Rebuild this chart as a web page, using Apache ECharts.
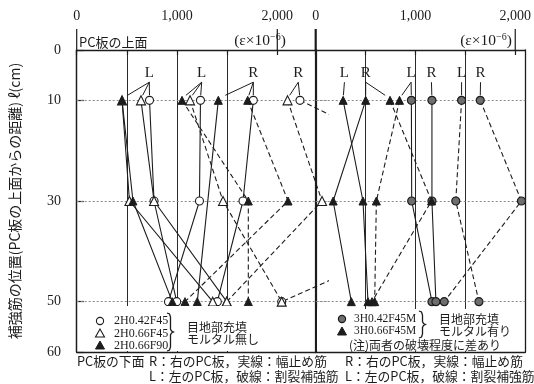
<!DOCTYPE html>
<html>
<head>
<meta charset="utf-8">
<script src="https://cdn.jsdelivr.net/npm/echarts@6/dist/echarts.min.js"></script>
<style>
  html, body { margin: 0; padding: 0; background: #fff; }
  #c { width: 534px; height: 384px; }
</style>
</head>
<body>
<div id="c"></div>
<script>
// Depth of each reading below the upper face of the PC slab (cm)
const depths = [-10, -30, -50];

// Strain readings (×10^-6) at 10 / 30 / 50 cm — joints without mortar
const c42_Lsolid_a = [726, 771, 997];
const c42_Lsolid_b = [1234, 1224, 915];
const c42_Rsolid   = [1761, 1658, 1402];
const c42_Rdash    = [2226, 4300, 2044];
const t66_Lsolid_a = [452, 526, 1356];
const t66_Lsolid_b = [641, 771, 1496];
const t66_Ldash    = [1130, 1459, 2044];
const t66_Rdash    = [2102, 2446, 1496];
const f90_Lsolid   = [452, 561, 953];
const f90_Ldash    = [1050, 1711, 1711];
const f90_Rsolid   = [1412, null, 1202];
const f90_Rdash    = [1705, 2107, 1080];

// Strain readings (×10^-6) — joints filled with mortar
const m42_Lsolid = [959, 962, 1165];
const m42_Rsolid = [1165, 1165, 1205];
const m42_Ldash  = [1462, 1404, 1636];
const m42_Rdash  = [1649, 2062, 1288];
const m66_Lsolid = [275, 474, 524];
const m66_Rsolid = [501, 175, 357];
const m66_Rdash  = [745, 1161, 564];
const m66_Ldash  = [840, 608, 591];

// Axis tick values
const strainTicks = [0, 500, 1000, 1500, 2000];
const strainLabels = [0, 1000, 2000];
const depthTicks = [0, -10, -30, -50, -60];

// Callout letters above the 10 cm row: letter, strain under the letter, strains pointed at
const calloutsLeft = [
  ['L', 724, [452, 641, 726]],
  ['L', 1246, [1050, 1130, 1234]],
  ['R', 1761, [1412, 1705, 1761]],
  ['R', 2209, [2102, 2226]]
];
const calloutsRight = [
  ['L', 288, [275]],
  ['R', 501, [501, 745]],
  ['L', 956, [840, 959]],
  ['R', 1160, [1165]],
  ['L', 1462, [1462]],
  ['R', 1652, [1649]]
];

const INK = '#1c1c1c';
const SERIF = '"Liberation Serif","Noto Sans CJK JP",serif';
const JP = '"Noto Sans CJK JP","Liberation Serif",sans-serif';

const marker = {
  openCircle: { symbol: 'circle', symbolSize: 8, itemStyle: { color: '#fff', borderColor: INK, borderWidth: 1.1 } },
  openTri:    { symbol: 'triangle', symbolSize: 9, itemStyle: { color: '#fff', borderColor: INK, borderWidth: 1.1 } },
  blackTri:   { symbol: 'triangle', symbolSize: 8, itemStyle: { color: INK, borderColor: INK, borderWidth: 1 } },
  grayCircle: { symbol: 'circle', symbolSize: 8, itemStyle: { color: '#6e6e6e', borderColor: INK, borderWidth: 1.2 } }
};

// panel: 0 = no mortar, 1 = mortar
const curves = [
  [0, c42_Lsolid_a, 'openCircle', false],
  [0, c42_Lsolid_b, 'openCircle', false],
  [0, c42_Rsolid, 'openCircle', false],
  [0, c42_Rdash, 'openCircle', true],
  [0, t66_Lsolid_a, 'openTri', false],
  [0, t66_Lsolid_b, 'openTri', false],
  [0, t66_Ldash, 'openTri', true],
  [0, t66_Rdash, 'openTri', true],
  [0, f90_Lsolid, 'blackTri', false],
  [0, f90_Ldash, 'blackTri', true],
  [0, f90_Rsolid, 'blackTri', false],
  [0, f90_Rdash, 'blackTri', true],
  [1, m42_Lsolid, 'grayCircle', false],
  [1, m42_Rsolid, 'grayCircle', false],
  [1, m42_Ldash, 'grayCircle', true],
  [1, m42_Rdash, 'grayCircle', true],
  [1, m66_Lsolid, 'blackTri', false],
  [1, m66_Rsolid, 'blackTri', false],
  [1, m66_Rdash, 'blackTri', true],
  [1, m66_Ldash, 'blackTri', true]
];

const rowLines = {
  silent: true, symbol: 'none', label: { show: false },
  lineStyle: { color: '#8a8a8a', type: [2, 2], width: 1 },
  data: depths.map(d => ({ yAxis: d }))
};

const series = curves.map(([panel, vals, mk, dashed], i) => {
  const s = Object.assign({
    type: 'line',
    xAxisIndex: panel === 0 ? 0 : 4,
    yAxisIndex: panel === 0 ? 0 : 4,
    data: vals.map((v, k) => [v === null ? '-' : v, depths[k]]),
    connectNulls: true,
    clip: true,
    showSymbol: true,
    lineStyle: { color: INK, width: 1.1, type: dashed ? [5, 3] : 'solid' },
    z: 5
  }, marker[mk]);
  s.itemStyle = Object.assign({}, marker[mk].itemStyle);
  if (i === 0 || i === 12) s.markLine = rowLines;
  return s;
});

const strainFmt = v => v === 0 ? '0' : (v / 1000) + ',000';

function tickAxis(grid, max) {
  return {
    gridIndex: grid, type: 'value', position: 'top', offset: 21, min: 0, max: max, interval: 500,
    axisLine: { show: true, lineStyle: { color: INK, width: 1.2 } },
    axisTick: { show: true, inside: true, length: 5, customValues: strainTicks, lineStyle: { color: INK, width: 1.2 } },
    axisLabel: { show: true, customValues: strainLabels, formatter: strainFmt, fontFamily: SERIF, fontSize: 14, color: INK, margin: 6 },
    splitLine: { show: true, showMinLine: false, showMaxLine: false, lineStyle: { color: '#2a2a2a', width: 1 } }
  };
}
function frameAxis(grid, pos, w) {
  const vertical = pos === 'left' || pos === 'right';
  return {
    gridIndex: grid, type: 'value', position: pos, min: vertical ? -60 : 0, max: vertical ? 0 : 1,
    axisLine: { show: true, onZero: false, lineStyle: { color: INK, width: w || 1.3 } },
    axisTick: { show: false }, axisLabel: { show: false }, splitLine: { show: false }
  };
}
const hidden = (grid, min, max) => ({ gridIndex: grid, type: 'value', min: min, max: max, show: false, splitLine: { show: false } });

const option = {
  animation: false,
  backgroundColor: '#fff',
  grid: [
    { left: 76.7, top: 50, width: 250.75, height: 302 },   // data, no mortar
    { left: 76.7, top: 50, width: 215.65, height: 302 },   // strain scale, no mortar
    { left: 76.7, top: 50, width: 239, height: 302 },      // frame, no mortar
    { left: 315.7, top: 50, width: 210.8, height: 302 }    // data + scale, mortar
  ],
  xAxis: [
    hidden(0, 0, 2500),
    tickAxis(1, 2150),
    frameAxis(2, 'top'),
    frameAxis(2, 'bottom'),
    tickAxis(3, 2100),
    frameAxis(3, 'top'),
    frameAxis(3, 'bottom')
  ],
  yAxis: [
    hidden(0, -60, 0),
    hidden(1, -60, 0),
    {
      gridIndex: 2, type: 'value', min: -60, max: 0, position: 'left', offset: 36.7,
      axisLine: { show: true, lineStyle: { color: INK, width: 1.2 } },
      axisTick: { show: true, inside: true, length: 7, customValues: depthTicks, lineStyle: { color: INK, width: 1.2 } },
      axisLabel: { show: true, inside: true, customValues: depthTicks, formatter: v => String(Math.abs(v)),
                   align: 'right', margin: 21, fontFamily: SERIF, fontSize: 14, color: INK },
      splitLine: { show: false },
      name: '補強筋の位置(PC板の上面からの距離) ℓ(cm)', nameLocation: 'middle', nameRotate: 90, nameGap: 18,
      nameTextStyle: { fontFamily: JP, fontSize: 14, color: INK }
    },
    frameAxis(2, 'left'),
    frameAxis(3, 'left', 2.2),
    frameAxis(3, 'right')
  ],
  series: series
};

const chart = echarts.init(document.getElementById('c'));
chart.setOption(option);

// ---- decorations positioned from the axes ----
const g = [];
const toL = (x, y) => chart.convertToPixel({ xAxisIndex: 0, yAxisIndex: 0 }, [x, y]);
const toR = (x, y) => chart.convertToPixel({ xAxisIndex: 4, yAxisIndex: 4 }, [x, y]);

function text(x, y, str, opt) {
  g.push({ type: 'text', x: x, y: y, z: 100, silent: true,
    style: Object.assign({ text: str, fill: INK, fontFamily: JP, fontSize: 12.5, align: 'left', verticalAlign: 'middle' }, opt || {}) });
}
function line(x1, y1, x2, y2, w, dash) {
  g.push({ type: 'line', z: 100, silent: true, shape: { x1: x1, y1: y1, x2: x2, y2: y2 },
    style: { stroke: INK, lineWidth: w || 1, lineDash: dash || null } });
}

// callout letters and leader lines
function callouts(list, conv) {
  list.forEach(([letter, lx, targets]) => {
    const p = conv(lx, -4.6);
    text(p[0], p[1], letter, { fontFamily: SERIF, fontSize: 15, align: 'center' });
    const s = conv(lx, -6.4);
    targets.forEach(t => {
      const e = conv(t + (lx - t) * 0.2, -9.0);
      line(s[0], s[1], e[0], e[1], 1);
    });
  });
}
callouts(calloutsLeft, toL);
callouts(calloutsRight, toR);

// connectors from the strain scales down to the frames
[[toL, 0], [toL, 2000], [toR, 0], [toR, 2000]].forEach(([conv, v], i) => {
  const p = conv(v, 0);
  line(p[0], p[1] - 21, p[0], p[1], i === 2 ? 2.2 : 1.2);
});

// scale headers
text(79, 42, 'PC板の上面', { fontSize: 13 });
const eps = { text: '(ε×10{s|−6})', fontFamily: SERIF, fontSize: 15.5, align: 'center',
  rich: { s: { fontFamily: SERIF, fontSize: 10, verticalAlign: 'top', padding: [0, 0, 7, 0] } } };
g.push({ type: 'text', x: 260, y: 41, z: 100, silent: true, style: Object.assign({ fill: INK, verticalAlign: 'middle' }, eps) });
g.push({ type: 'text', x: 486, y: 41, z: 100, silent: true, style: Object.assign({ fill: INK, verticalAlign: 'middle' }, eps) });

function brace(x, y1, y2) {
  const m = (y1 + y2) / 2;
  g.push({ type: 'polyline', z: 100, silent: true,
    shape: { points: [[x, y1], [x + 2.5, y1 + 1], [x + 3.5, y1 + 4], [x + 3.5, m - 3], [x + 4.5, m - 1], [x + 6.5, m],
                      [x + 4.5, m + 1], [x + 3.5, m + 3], [x + 3.5, y2 - 4], [x + 2.5, y2 - 1], [x, y2]] },
    style: { fill: null, stroke: INK, lineWidth: 1.3 } });
}

// legend: no mortar
g.push({ type: 'rect', z: 90, silent: true, shape: { x: 78, y: 306, width: 184, height: 45 }, style: { fill: '#fff' } });
g.push({ type: 'circle', z: 100, silent: true, shape: { cx: 100, cy: 321, r: 3.6 }, style: { fill: '#fff', stroke: INK, lineWidth: 1.1 } });
g.push({ type: 'polygon', z: 100, silent: true, shape: { points: [[100, 329], [95.5, 337], [104.5, 337]] }, style: { fill: '#fff', stroke: INK, lineWidth: 1.1 } });
g.push({ type: 'polygon', z: 100, silent: true, shape: { points: [[100, 341], [95.5, 349], [104.5, 349]] }, style: { fill: INK, stroke: INK, lineWidth: 1 } });
text(114, 321, '2H0.42F45', { fontFamily: SERIF, fontSize: 12 });
text(114, 333.5, '2H0.66F45', { fontFamily: SERIF, fontSize: 12 });
text(114, 345.5, '2H0.66F90', { fontFamily: SERIF, fontSize: 12 });
brace(167, 313, 351);
text(187, 327, '目地部充填', { fontSize: 12 });
text(187, 339, 'モルタル無し', { fontSize: 12 });

// legend: with mortar
g.push({ type: 'rect', z: 90, silent: true, shape: { x: 317, y: 309, width: 196, height: 42 }, style: { fill: '#fff' } });
g.push({ type: 'circle', z: 100, silent: true, shape: { cx: 342, cy: 319, r: 3.6 }, style: { fill: '#6e6e6e', stroke: INK, lineWidth: 1.2 } });
g.push({ type: 'polygon', z: 100, silent: true, shape: { points: [[342, 327], [337.5, 335], [346.5, 335]] }, style: { fill: INK, stroke: INK, lineWidth: 1 } });
text(354, 319, '3H0.42F45M', { fontFamily: SERIF, fontSize: 11.5 });
text(354, 331, '3H0.66F45M', { fontFamily: SERIF, fontSize: 11.5 });
brace(419, 311, 338);
text(439, 319, '目地部充填', { fontSize: 12 });
text(439, 331, 'モルタル有り', { fontSize: 12 });
text(349, 345, '(注)両者の破壊程度に差あり', { fontSize: 12 });

// notes under the panels
text(77, 361, 'PC板の下面', { fontSize: 12.8 });
text(149, 361, 'R：右のPC板，実線：幅止め筋', { fontSize: 12.8 });
text(149, 376, 'L：左のPC板，破線：割裂補強筋', { fontSize: 12.8 });
text(345, 361, 'R：右のPC板，実線：幅止め筋', { fontSize: 12.8 });
text(345, 376, 'L：左のPC板，破線：割裂補強筋', { fontSize: 12.8 });

chart.setOption({ graphic: { elements: g } });
</script>
</body>
</html>
